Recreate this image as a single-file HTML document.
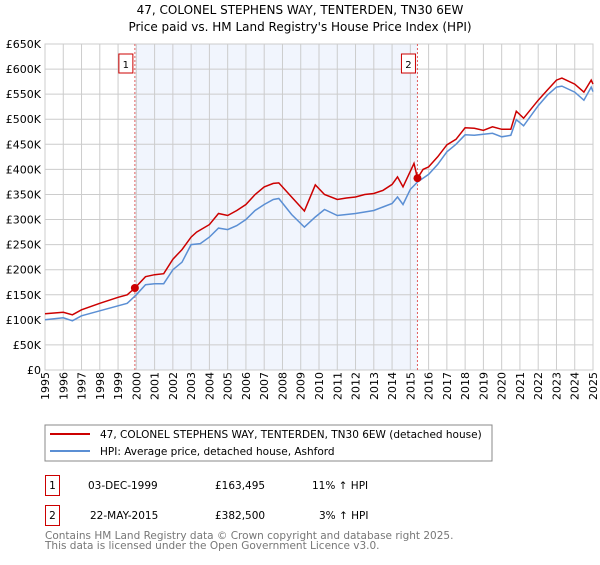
<!DOCTYPE html>
<html><head><meta charset="utf-8"><style>
body{margin:0;background:#fff;font-family:"Liberation Sans","DejaVu Sans",sans-serif;}
svg text{font-family:"DejaVu Sans","Liberation Sans",sans-serif;}
</style></head><body>
<svg id="c" width="600" height="560" xmlns="http://www.w3.org/2000/svg">
<text x="300" y="14" text-anchor="middle" font-size="12">47, COLONEL STEPHENS WAY, TENTERDEN, TN30 6EW</text>
<text x="300" y="31" text-anchor="middle" font-size="12">Price paid vs. HM Land Registry's House Price Index (HPI)</text>
<g id="plot"></g>
<rect x="45" y="425" width="447" height="36" fill="#fff" stroke="#888"/>
<line x1="50" y1="434" x2="90" y2="434" stroke="#cc0000" stroke-width="2"/>
<text x="100" y="438" font-size="10.5">47, COLONEL STEPHENS WAY, TENTERDEN, TN30 6EW (detached house)</text>
<line x1="50" y1="451" x2="90" y2="451" stroke="#5b8fd4" stroke-width="2"/>
<text x="100" y="455" font-size="10.5">HPI: Average price, detached house, Ashford</text>
<rect x="45.5" y="475.5" width="14" height="20" fill="none" stroke="#cc0000"/>
<text x="52.5" y="489" font-size="10.5" text-anchor="middle">1</text>
<text x="88" y="489" font-size="10.5">03-DEC-1999</text>
<text x="215" y="489" font-size="10.5">£163,495</text>
<text x="312" y="489" font-size="10.5">11% ↑ HPI</text>
<rect x="45.5" y="505.5" width="14" height="20" fill="none" stroke="#cc0000"/>
<text x="52.5" y="519" font-size="10.5" text-anchor="middle">2</text>
<text x="90" y="519" font-size="10.5">22-MAY-2015</text>
<text x="215" y="519" font-size="10.5">£382,500</text>
<text x="319" y="519" font-size="10.5">3% ↑ HPI</text>
<text x="45" y="539" font-size="10.5" fill="#777">Contains HM Land Registry data © Crown copyright and database right 2025.</text>
<text x="45" y="549" font-size="10.5" fill="#777">This data is licensed under the Open Government Licence v3.0.</text>
</svg>
<script>
const yTicks=[0,50,100,150,200,250,300,350,400,450,500,550,600,650];
const yTickLabels=["£0","£50K","£100K","£150K","£200K","£250K","£300K","£350K","£400K","£450K","£500K","£550K","£600K","£650K"];
const years=[1995,1996,1997,1998,1999,2000,2001,2002,2003,2004,2005,2006,2007,2008,2009,2010,2011,2012,2013,2014,2015,2016,2017,2018,2019,2020,2021,2022,2023,2024,2025];
const hpiT=[1995,1996,1996.5,1997,1998,1999,1999.5,2000,2000.5,2001,2001.5,2002,2002.5,2003,2003.5,2004,2004.5,2005,2005.5,2006,2006.5,2007,2007.5,2007.8,2008.5,2009.2,2009.8,2010.3,2011,2011.5,2012,2012.5,2013,2013.5,2014,2014.3,2014.6,2015,2015.4,2016,2016.5,2017,2017.5,2018,2018.5,2019,2019.5,2020,2020.5,2020.8,2021.2,2022,2022.5,2023,2023.3,2024,2024.5,2024.9,2025];
const hpiV=[100,104,98,108,118,128,133,150,170,172,172,200,215,250,252,265,283,280,288,300,318,330,340,342,310,285,305,320,308,310,312,315,318,325,332,345,330,360,375,390,410,435,450,469,468,470,472,465,468,499,487,527,548,564,566,554,538,564,555];
const priceT=[1995,1996,1996.5,1997,1998,1999,1999.5,1999.92,2000.5,2001,2001.5,2002,2002.5,2003,2003.3,2004,2004.5,2005,2005.5,2006,2006.5,2007,2007.5,2007.8,2008.5,2009.2,2009.8,2010.3,2011,2011.5,2012,2012.5,2013,2013.5,2014,2014.3,2014.6,2015.2,2015.39,2015.7,2016,2016.5,2017,2017.5,2018,2018.5,2019,2019.5,2020,2020.5,2020.8,2021.2,2022,2022.5,2023,2023.3,2024,2024.5,2024.9,2025];
const priceV=[112,115,110,120,133,145,150,163.5,186,190,192,221,240,265,275,290,312,308,318,330,350,365,372,373,345,317,369,350,340,343,345,350,352,358,370,385,365,412,382.5,400,405,425,449,460,483,482,478,485,480,480,516,502,538,558,578,582,570,554,578,570];
const sales=[[1999.92,163.495,"1"],[2015.39,382.5,"2"]];
const NS="http://www.w3.org/2000/svg";
const L=45,R=593,T=44,B=370;
const X=t=>L+(t-1995)/30*(R-L);
const Y=v=>B-v/650*(B-T);
const g=document.getElementById('plot');
function mk(tag,a){const e=document.createElementNS(NS,tag);for(const k in a)e.setAttribute(k,a[k]);g.appendChild(e);return e;}
const bg=mk('rect',{x:L,y:T,width:R-L,height:B-T,fill:'#fff'});


const sh=mk('rect',{x:X(sales[0][0]),y:T,width:X(sales[1][0])-X(sales[0][0]),height:B-T,fill:'#eef3fc',opacity:0.8});


yTicks.forEach((v,i)=>{
 const l=mk('line',{x1:L,x2:R,y1:Y(v),y2:Y(v),stroke:'#ccc'});
 
 
 const t=mk('text',{x:L-4,y:Y(v)+4,'text-anchor':'end','font-size':11});
 t.textContent=yTickLabels[i];
 
 
});
years.forEach(y=>{
 const l=mk('line',{x1:X(y),x2:X(y),y1:T,y2:B,stroke:'#ccc'});
 
 
 const t=mk('text',{x:0,y:0,'font-size':11,transform:`translate(${X(y)+4},${B+30}) rotate(-90)`});
 t.textContent=y;
 
 
});
const ax=mk('rect',{x:L,y:T,width:R-L,height:B-T,fill:'none',stroke:'#ccc'});


sales.forEach(s=>{
 const l=mk('line',{x1:X(s[0]),x2:X(s[0]),y1:T,y2:B,stroke:'#e06060','stroke-dasharray':'2,2'});
 
 
});
function path(ts,vs,col,name){
 const d=ts.map((t,i)=>(i?'L':'M')+X(t).toFixed(1)+','+Y(vs[i]).toFixed(1)).join('');
 const p=mk('path',{d:d,fill:'none',stroke:col,'stroke-width':1.5});
 
 
}
path(hpiT,hpiV,'#5b8fd4','hpi-line');
path(priceT,priceV,'#cc0000','price-line');
sales.forEach(s=>{
 const c=mk('circle',{cx:X(s[0]),cy:Y(s[1]),r:4,fill:'#cc0000'});
 
 
 const bx=mk('rect',{x:X(s[0])-16,y:54,width:14,height:19,fill:'#fff',stroke:'#cc0000'});
 
 
 const t=mk('text',{x:X(s[0])-9,y:68,'text-anchor':'middle','font-size':10});
 t.textContent=s[2];
 
 
});
</script>
</body></html>
